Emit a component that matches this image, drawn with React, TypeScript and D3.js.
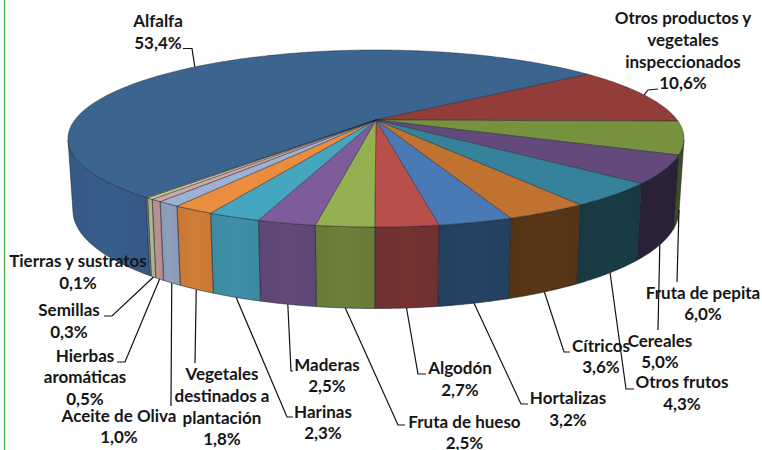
import React from "react";
import * as d3 from "d3";

const categories = [
  "Alfalfa",
  "Otros productos y vegetales inspeccionados",
  "Fruta de pepita",
  "Cereales",
  "Otros frutos",
  "Cítricos",
  "Hortalizas",
  "Algodón",
  "Fruta de hueso",
  "Maderas",
  "Harinas",
  "Vegetales destinados a plantación",
  "Aceite de Oliva",
  "Hierbas aromáticas",
  "Semillas",
  "Tierras y sustratos",
];
const values = [53.4, 10.6, 6.0, 5.0, 4.3, 3.6, 3.2, 2.7, 2.5, 2.5, 2.3, 1.8, 1.0, 0.5, 0.3, 0.1];

const topColors = [
  "#3b648f", "#933d3b", "#77923f", "#644a7c", "#35829a", "#c07330", "#4a7ab5", "#b94e4b",
  "#93b150", "#7e5c9c", "#46a5bf", "#eb8d3e", "#9db1d3", "#d3a4a3", "#bcd09b", "#a897c0",
];
const sideColors = [
  "#375d8b", "#6f2e2d", "#3f4f20", "#2a2136", "#193c45", "#593616", "#264365", "#743231",
  "#6b8039", "#61497a", "#3e90a8", "#d07e37", "#8fa0bd", "#bc9191", "#a9bb8c", "#8c7da3",
];

// label layout: center x, baselines, leader elbow and end (null = no leader)
type LabelPos = { cx: number; y: number[]; lines: string[]; leader: [number, number][] | null; fromTop?: boolean };
const labelLayout: LabelPos[] = [
  { cx: 158, y: [27, 49], lines: ["Alfalfa"], leader: [[192, 48.5], [183, 48.5]], fromTop: true },
  { cx: 683, y: [24, 46, 68, 89], lines: ["Otros productos y", "vegetales", "inspeccionados"], leader: [[648, 90], [658, 89]], fromTop: true },
  { cx: 703, y: [299, 320], lines: ["Fruta de pepita"], leader: [[677, 282]] },
  { cx: 660, y: [347, 368], lines: ["Cereales"], leader: [[658, 330]] },
  { cx: 682, y: [388, 410], lines: ["Otros frutos"], leader: [[626, 389], [634, 389]] },
  { cx: 601, y: [352, 373], lines: ["Cítricos"], leader: [[564, 352], [570, 352]] },
  { cx: 568, y: [404, 426], lines: ["Hortalizas"], leader: [[521, 404], [528, 404]] },
  { cx: 460, y: [374, 396], lines: ["Algodón"], leader: [[418, 374], [426, 374]] },
  { cx: 464.5, y: [428, 449], lines: ["Fruta de hueso"], leader: [[398, 425], [405, 425]] },
  { cx: 327, y: [371, 392], lines: ["Maderas"], leader: [[291, 371], [293, 371]] },
  { cx: 323, y: [418, 439], lines: ["Harinas"], leader: [[287, 417], [293, 417]] },
  { cx: 222, y: [380, 402, 424, 445], lines: ["Vegetales", "destinados a", "plantación"], leader: [[195, 363]] },
  { cx: 119, y: [422, 443], lines: ["Aceite de Oliva"], leader: [[171, 406]] },
  { cx: 85, y: [362, 383, 405], lines: ["Hierbas", "aromáticas"], leader: [[125, 362], [117, 362]] },
  { cx: 69, y: [316, 338], lines: ["Semillas"], leader: [[112, 316], [104, 316]] },
  { cx: 78, y: [267, 289], lines: ["Tierras y sustratos"], leader: null },
];

const width = 762;
const height = 450;
const hub = { x: 376, y: 120 };
const topRim = { cx: 376, cy: 138.5, rx: 308, ry: 88.5 };
const bottomRim = { cx: 376, cy: 210.5, rx: 303, ry: 98 };
const k = (hub.y - topRim.cy) / topRim.ry; // perspective shift of the disc center

type Rim = typeof topRim;

function project(theta: number, rim: Rim): [number, number] {
  const u = Math.sin(theta);
  const v = -Math.cos(theta);
  const d = 1 + k * v;
  return [rim.cx + (rim.rx * u * Math.sqrt(1 - k * k)) / d, rim.cy + (rim.ry * (v + k)) / d];
}

const format = (v: number) => v.toFixed(1).replace(".", ",") + "%";

const startDeg = 52.5 - (values[0] / d3.sum(values)) * 360;
const pie = d3
  .pie<number>()
  .sort(null)
  .value((d) => d)
  .startAngle((startDeg * Math.PI) / 180)
  .endAngle((startDeg * Math.PI) / 180 + 2 * Math.PI);

const line = d3.line();
const leaderLine = d3.line();

function rimAngles(a0: number, a1: number) {
  const n = Math.max(2, Math.ceil((a1 - a0) / 0.01));
  return d3.range(n + 1).map((i) => a0 + ((a1 - a0) * i) / n);
}

function wallPath(a0: number, a1: number) {
  const angles = rimAngles(a0, a1);
  const keep: number[] = [];
  for (let i = 0; i < angles.length - 1; i++) {
    const t1 = project(angles[i], topRim);
    const t2 = project(angles[i + 1], topRim);
    const b1 = project(angles[i], bottomRim);
    const cross = (t2[0] - t1[0]) * (b1[1] - t1[1]) - (t2[1] - t1[1]) * (b1[0] - t1[0]);
    if (cross < 0) {
      if (!keep.length) keep.push(angles[i]);
      keep.push(angles[i + 1]);
    }
  }
  if (keep.length < 2) return null;
  const pts = [
    ...keep.map((a) => project(a, topRim)),
    ...keep.slice().reverse().map((a) => project(a, bottomRim)),
  ];
  return line(pts) + "Z";
}

export default function App() {
  const arcs = pie(values);
  const edge = "#1c2430";
  return (
    <svg
      width={width}
      height={height}
      style={{ position: "absolute", left: 0, top: 0, display: "block", background: "#fff" }}
      fontFamily="Lato, sans-serif"
      fontWeight={700}
      fontSize={17}
    >
      <defs>
        {sideColors.map((c, i) => (
          <linearGradient key={i} id={`side${i}`} x1="0" x2="1" y1="0" y2="0">
            <stop offset="0" stopColor={d3.color(c)!.darker(0.12).formatHex()} />
            <stop offset="0.5" stopColor={c} />
            <stop offset="1" stopColor={d3.color(c)!.darker(0.12).formatHex()} />
          </linearGradient>
        ))}
      </defs>
      <line x1={4.5} x2={4.5} y1={0} y2={height} stroke="#3fa83f" strokeWidth={1.2} />

      {arcs.map((a, i) => {
        const d = wallPath(a.startAngle, a.endAngle);
        return d ? (
          <path key={i} d={d} fill={`url(#side${i})`} stroke={edge} strokeWidth={0.7} strokeOpacity={0.8} />
        ) : null;
      })}

      {arcs.map((a, i) => {
        const pts: [number, number][] = [
          [hub.x, hub.y],
          ...rimAngles(a.startAngle, a.endAngle).map((t) => project(t, topRim)),
        ];
        return (
          <path key={i} d={line(pts) + "Z"} fill={topColors[i]} stroke={edge} strokeWidth={0.6} strokeOpacity={0.75} strokeLinejoin="round" />
        );
      })}

      {labelLayout.map((l, i) => (
        <text key={i} textAnchor="middle" fill="#161616">
          {[...l.lines, format(values[i])].map((t, j) => (
            <tspan key={j} x={l.cx} y={l.y[j]}>
              {t}
            </tspan>
          ))}
        </text>
      ))}

      {arcs.map((a, i) => {
        const l = labelLayout[i];
        if (!l.leader) return null;
        const mid = (a.startAngle + a.endAngle) / 2;
        const from = project(mid, l.fromTop ? topRim : bottomRim);
        return (
          <path key={i} d={leaderLine([from, ...l.leader]) ?? ""} fill="none" stroke="#111" strokeWidth={1.2} />
        );
      })}
    </svg>
  );
}
